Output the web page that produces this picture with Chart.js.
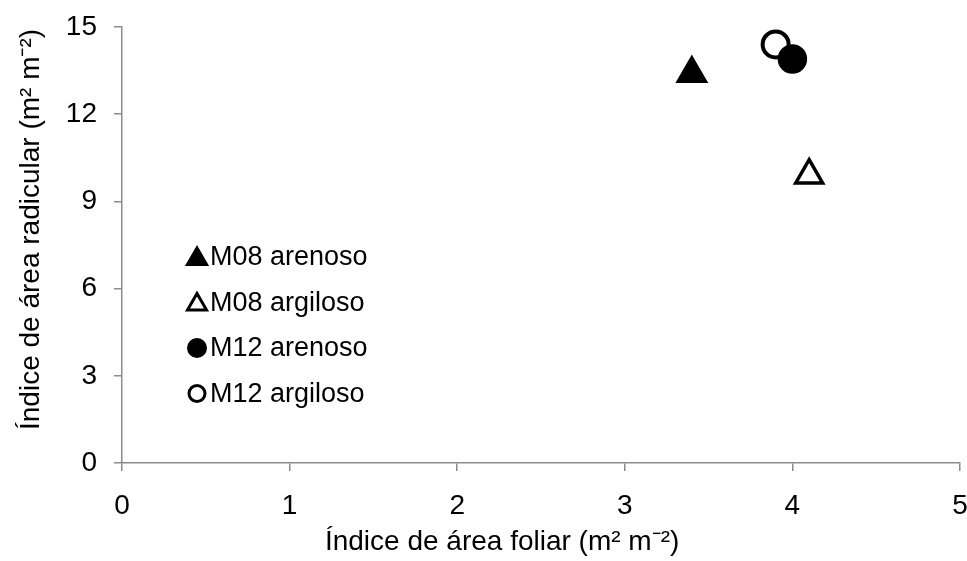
<!DOCTYPE html>
<html><head><meta charset="utf-8">
<script src="https://cdn.jsdelivr.net/npm/chart.js@4/dist/chart.umd.min.js"></script>
<style>html,body{margin:0;padding:0;background:#fff}#wrap{width:967px;height:561px}</style>
</head><body><div id="wrap"><canvas id="c" width="967" height="561"></canvas></div>
<script>
const seriesNames = ['M08 arenoso', 'M08 argiloso', 'M12 arenoso', 'M12 argiloso'];
const xValues = [3.4, 4.1, 4.0, 3.9];
const yValues = [13.4, 9.9, 13.9, 14.4];
const xTicks = [0, 1, 2, 3, 4, 5];
const yTicks = [0, 3, 6, 9, 12, 15];
const xTitle = 'Índice de área foliar (m² m⁻²)';
const yTitle = 'Índice de área radicular (m² m⁻²)';

const FONT = '"Liberation Sans", Arial, sans-serif';
const NB = '\u00a0';

const styles = [
  {pointStyle: 'triangle', fill: '#000', r: 15.5, bw: 3.5, lr: 11},
  {pointStyle: 'triangle', fill: '#fff', r: 15.5, bw: 3.5, lr: 11},
  {pointStyle: 'circle', fill: '#000', r: 13, bw: 3.5, lr: 8.5},
  {pointStyle: 'circle', fill: '#fff', r: 13, bw: 4, lr: 8}
];

const datasets = seriesNames.map((n, i) => ({
  label: n,
  data: [{x: xValues[i], y: yValues[i]}],
  pointStyle: styles[i].pointStyle,
  pointRadius: styles[i].r,
  pointHoverRadius: styles[i].r,
  backgroundColor: styles[i].fill,
  borderColor: '#000',
  borderWidth: styles[i].bw,
  legendRadius: styles[i].lr
}));

const legendPlugin = {
  id: 'insideLegend',
  afterDraw(chart) {
    const ctx = chart.ctx;
    const ca = chart.chartArea;
    const x0 = ca.left + 75;
    const y0 = ca.top + 230;
    const step = 45.5;
    ctx.save();
    ctx.font = '27px ' + FONT;
    ctx.textBaseline = 'middle';
    chart.data.datasets.forEach((ds, i) => {
      const y = y0 + i * step;
      ctx.fillStyle = ds.backgroundColor;
      ctx.strokeStyle = '#000';
      ctx.lineWidth = 3;
      Chart.helpers.drawPoint(ctx, {pointStyle: ds.pointStyle, radius: ds.legendRadius, borderWidth: 3}, x0, y + (ds.pointStyle === 'triangle' ? 2 : 0));
      ctx.fillStyle = '#000';
      ctx.fillText(ds.label, x0 + 13, y + 1);
    });
    ctx.restore();
  }
};

new Chart(document.getElementById('c'), {
  type: 'scatter',
  data: {datasets},
  plugins: [legendPlugin],
  options: {
    responsive: false,
    animation: false,
    devicePixelRatio: 1,
    layout: {autoPadding: false, padding: {left: 14, right: 7, top: 27, bottom: 2}},
    plugins: {legend: {display: false}, tooltip: {enabled: false}},
    scales: {
      x: {
        type: 'linear', min: 0, max: 5,
        afterBuildTicks: s => { s.ticks = xTicks.map(v => ({value: v})); },
        afterFit: s => { s.height = 96; s.paddingLeft = 0; s.paddingRight = 0; },
        grid: {drawOnChartArea: false, drawTicks: true, tickLength: 8, color: '#8c8c8c', lineWidth: 1.5},
        border: {color: '#8c8c8c', width: 1.5},
        ticks: {color: '#000', font: {size: 28, family: FONT}, padding: 18, maxRotation: 0},
        title: {display: true, text: xTitle + NB.repeat(10), color: '#000', font: {size: 28, family: FONT}, padding: {top: 0, bottom: 0}}
      },
      y: {
        type: 'linear', min: 0, max: 15,
        afterBuildTicks: s => { s.ticks = yTicks.map(v => ({value: v})); },
        afterFit: s => { s.width = 108; s.paddingTop = 0; s.paddingBottom = 0; },
        grid: {drawOnChartArea: false, drawTicks: true, tickLength: 8, color: '#8c8c8c', lineWidth: 1.5},
        border: {color: '#8c8c8c', width: 1.5},
        ticks: {color: '#000', font: {size: 28, family: FONT}, padding: 17},
        title: {display: true, text: NB.repeat(4) + yTitle, color: '#000', font: {size: 28, family: FONT}, padding: {top: 0, bottom: 4}}
      }
    }
  }
});
</script></body></html>
